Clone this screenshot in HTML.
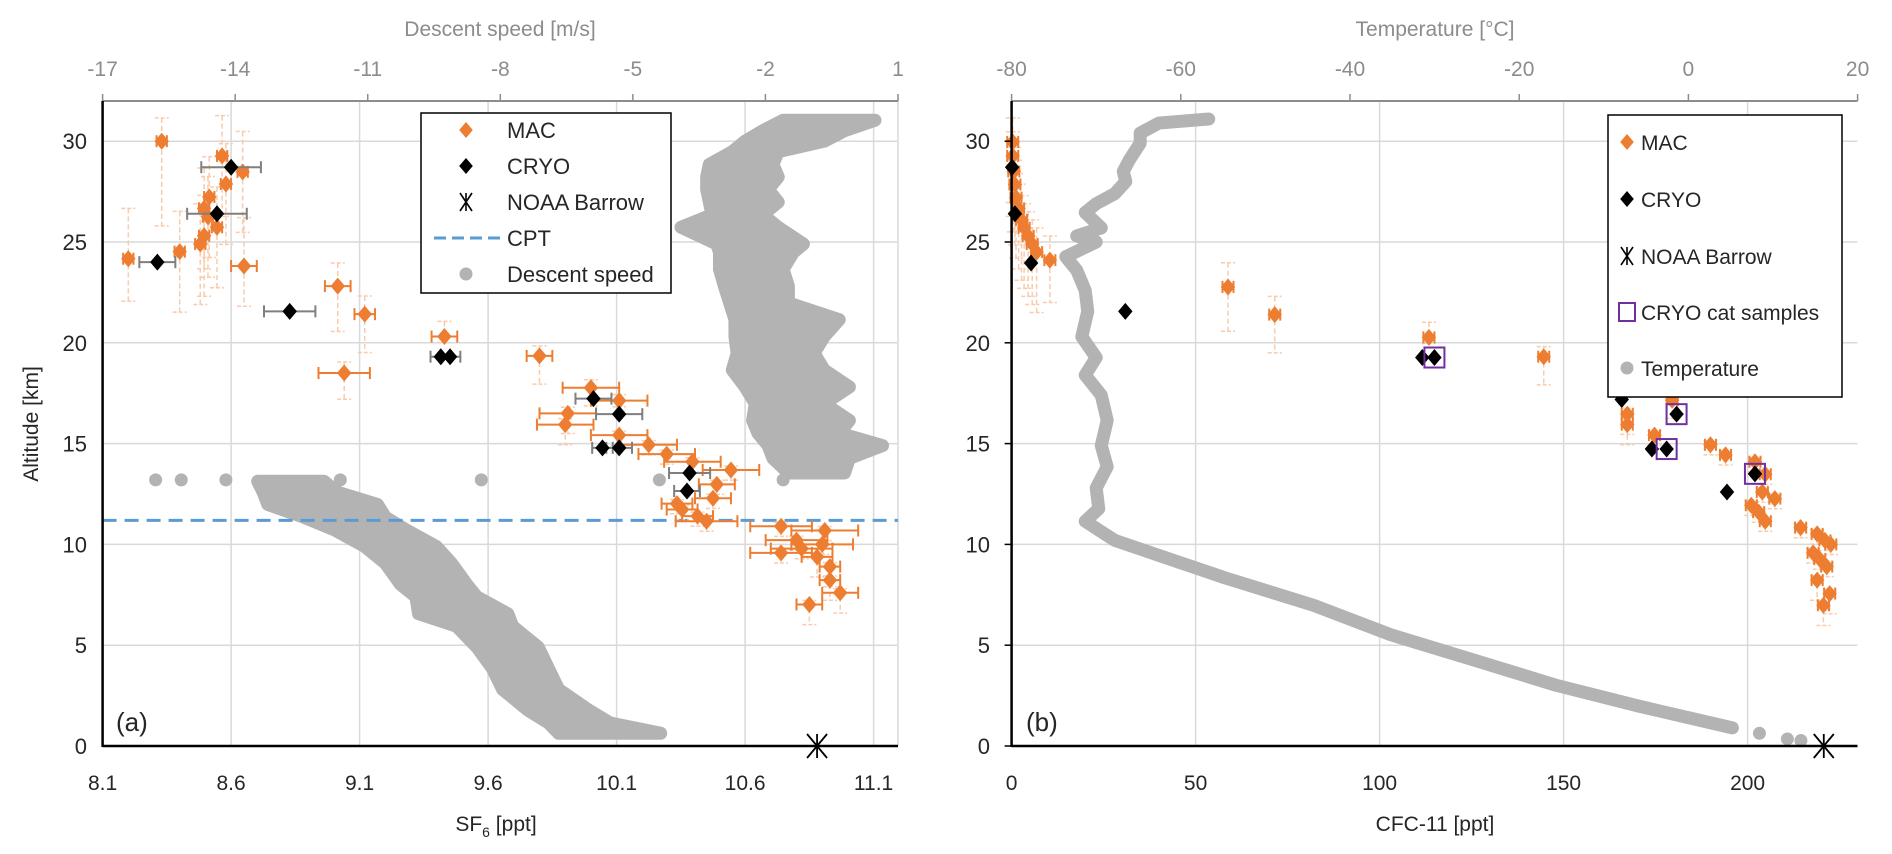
<!DOCTYPE html>
<html><head><meta charset="utf-8"><style>
html,body{margin:0;padding:0;background:#fff;}
svg{display:block;font-family:"Liberation Sans",sans-serif;}
</style></head><body>
<svg id="chart" width="1892" height="854" viewBox="0 0 1892 854"></svg>
<script>
// ---------- Panel (a) data ----------
const macA_sf6 = [8.33,8.565,8.645,8.58,8.515,8.495,8.51,8.545,8.495,8.48,8.40,8.20,8.65,9.015,9.12,9.43,9.04,9.80,10.00,10.11,9.91,9.90,10.11,10.225,10.295,10.395,10.545,10.49,10.475,10.335,10.355,10.415,10.45,10.74,10.91,10.80,10.90,10.82,10.74,10.88,10.93,10.93,10.97,10.85];
const macA_alt = [30.0,29.27,28.48,27.88,27.23,26.67,26.25,25.73,25.31,24.9,24.52,24.17,23.81,22.81,21.42,20.31,18.5,19.35,17.77,17.13,16.5,15.94,15.42,14.94,14.48,14.1,13.69,12.98,12.29,12.02,11.73,11.4,11.15,10.9,10.69,10.21,10.0,9.79,9.58,9.38,8.9,8.23,7.6,7.02];
const macA_xerr = [0.02,0.02,0.02,0.02,0.02,0.02,0.02,0.02,0.02,0.02,0.02,0.02,0.05,0.05,0.04,0.05,0.1,0.05,0.11,0.11,0.11,0.11,0.11,0.11,0.11,0.11,0.11,0.07,0.07,0.06,0.06,0.06,0.12,0.12,0.13,0.12,0.12,0.12,0.12,0.06,0.04,0.04,0.07,0.05];
const macA_yerrUp = [1.15,2,2,2,2,2,2,2,2,2,2,2.5,2.4,1.15,0.9,0.75,0.55,0.5,0.4,0.3,0.3,0.3,0.2,0.2,0.2,0.2,0.2,0.2,0.2,0.2,0.2,0.2,0.2,0.2,0.2,0.2,0.2,0.2,0.2,0.2,0.2,0.2,0.2,0.2];
const macA_yerrDn = [4.2,3,3,3,3,3,3,3,3,3,3,2.1,2.0,2.25,1.9,0.3,1.3,1.4,0.9,0.3,1.0,1.0,0.5,0.5,0.5,0.5,0.5,0.5,0.5,0.5,0.5,0.5,0.5,0.5,0.5,0.5,0.5,0.5,0.5,1.0,1.0,1.0,1.0,1.0];
const cryoA_sf6 = [8.60,8.545,8.313,8.828,9.416,9.452,10.01,10.11,10.045,10.11,10.384,10.374];
const cryoA_alt = [28.71,26.4,24.0,21.56,19.31,19.31,17.23,16.46,14.79,14.79,13.54,12.65];
const cryoA_xerr = [0.116,0.116,0.07,0.1,0.04,0.04,0.07,0.09,0.04,0.05,0.08,0.05];
// descent speed cloud rows: altitude, min speed, max speed
const speedLow_alt = [0.63,1.15,1.77,2.81,3.85,4.9,5.94,6.56,7.4,8.02,9.06,9.9,10.73,11.35,11.98,12.6,13.13];
const speedLow_min = [-6.68,-6.91,-7.37,-7.95,-8.18,-8.53,-8.99,-9.85,-9.91,-10.26,-10.6,-11.07,-11.76,-12.45,-13.26,-13.37,-13.49];
const speedLow_max = [-4.37,-5.52,-5.99,-6.68,-6.91,-7.14,-7.72,-7.83,-8.53,-8.76,-9.1,-9.45,-10.14,-10.6,-10.78,-11.7,-11.99];
const speedHigh_alt = [13.54,14.27,14.9,15.52,16.15,16.98,17.81,18.65,19.48,20.31,21.15,21.98,22.81,23.65,24.48,24.9,25.73,26.35,26.98,27.6,28.23,28.85,29.48,30.0,30.52,31.04];
const speedHigh_min = [-1.48,-1.83,-1.94,-2.17,-2.29,-2.23,-2.46,-2.75,-2.64,-2.69,-2.69,-2.81,-2.93,-3.04,-3.04,-3.1,-3.91,-3.21,-3.27,-3.33,-3.33,-3.27,-2.75,-2.46,-2.06,-1.6];
const speedHigh_max = [-0.21,-0.1,0.65,-0.33,-0.1,-0.67,-0.1,-0.67,-0.9,-0.67,-0.33,-1.48,-1.48,-1.6,-1.37,-1.14,-1.71,-2.06,-1.71,-1.94,-1.71,-1.83,-1.71,-0.67,-0.21,0.48];
const speedIso_val = [-15.8,-15.22,-14.21,-11.62,-8.43,-4.4,-1.6];
const speedIso_alt = [13.2,13.2,13.2,13.2,13.2,13.2,13.2];
const cptAlt = 11.19;
const noaaSF6 = 10.88;
const sf6Ticks = [8.1,8.6,9.1,9.6,10.1,10.6,11.1];
const speedTicks = [-17,-14,-11,-8,-5,-2,1];
const altTicks = [0,5,10,15,20,25,30];

// ---------- Panel (b) data ----------
const macB_cfc = [0.3,0.3,0.6,0.9,1.2,1.9,2.7,3.4,4.5,5.6,6.8,10.4,58.8,71.5,113.4,144.6,179.5,167.3,167.3,174.7,189.9,194,202,204.8,204,207.4,201,203,204.8,214.4,218.9,221,222.6,217.8,219.6,221.5,218.9,222.3,220.6];
const macB_alt = [29.96,29.27,28.5,27.85,27.2,26.67,26.1,25.7,25.3,24.9,24.5,24.1,22.77,21.4,20.27,19.31,17.15,16.46,15.94,15.42,14.94,14.44,14.1,13.48,12.6,12.27,11.94,11.6,11.15,10.83,10.52,10.2,10.0,9.58,9.27,8.9,8.23,7.56,6.98];
const macB_yerrUp = [1.2,1.2,1.2,1.2,1.2,1.2,1.2,1.2,1.2,1.2,1.2,1.2,1.2,0.9,0.75,0.5,0.3,0.3,0.3,0.2,0.2,0.2,0.2,0.2,0.2,0.2,0.2,0.2,0.2,0.2,0.2,0.2,0.2,0.2,0.2,0.2,0.2,0.2,0.2];
const macB_yerrDn = [3,3,3,3,3,3,3,3,3,3,3,2.1,2.2,1.9,0.3,1.4,0.9,1.0,1.0,0.5,0.5,0.5,0.5,0.5,0.5,0.5,0.5,0.5,0.5,0.5,0.5,0.5,0.5,0.5,0.5,0.5,1.0,1.0,1.0];
const cryoB_cfc = [0.15,0.9,5.3,30.9,111.6,114.9,165.8,180.7,174,178,202,194.4];
const cryoB_alt = [28.71,26.4,23.96,21.56,19.27,19.27,17.19,16.46,14.73,14.73,13.5,12.6];
const catB_cfc = [114.9,180.7,178,202];
const catB_alt = [19.27,16.46,14.73,13.5];
const temp_val = [-56.7,-62.6,-64.8,-64.8,-66.1,-66.8,-66.5,-67.8,-70,-71.3,-69.4,-72.3,-70,-73.6,-72.3,-71.3,-71,-71.7,-70,-71.3,-69.4,-68.7,-69.4,-68.7,-70,-69.7,-71.3,-69.4,-67.8,-61.3,-54.7,-44.3,-35.2,-25.4,-15.7,-5.9,5.2];
const temp_alt = [31.1,30.9,30.4,29.9,29.06,28.5,28.0,27.4,26.9,26.46,25.7,25.3,25.0,24.27,23.6,22.6,21.56,20.3,19.27,18.4,17.4,16.15,14.9,13.85,12.8,11.77,11.15,10.63,10.2,9.27,8.33,6.98,5.52,4.27,3.02,1.98,0.9];
const tempIso_val = [8.4,11.7,13.3];
const tempIso_alt = [0.63,0.35,0.27];
const noaaCFC = 220.7;
const cfcTicks = [0,50,100,150,200];
const tempTicks = [-80,-60,-40,-20,0,20];

// ---------- axes ----------
const Y0 = 746, PXKM = 20.16, TOP = 101;
const yA = a => Y0 - a * PXKM;
const AL = 102.6, AR = 898;
const xS = v => AL + (v - 8.1) * 257;
const xV = s => AL + (s + 17) * (AR - AL) / 18;
const BL = 1011.6, BR = 1857.5;
const xC = c => BL + c * 3.68;
const xT = t => BL + (t + 80) * 8.46;

const NS = 'http://www.w3.org/2000/svg';
const svg = document.getElementById('chart');
function mk(tag, attrs, parent) {
  const e = document.createElementNS(NS, tag);
  for (const k in attrs) e.setAttribute(k, attrs[k]);
  (parent || svg).appendChild(e);
  return e;
}
function txt(s, attrs, parent) { const e = mk('text', attrs, parent); e.textContent = s; return e; }
const ORANGE = '#ED7D31', LIGHT = '#f8cbad', GRID = '#d9d9d9', GRAY = '#b3b3b3';

function diamond(g, cx, cy, r, fill) {
  return mk('polygon', {points: `${cx},${cy-r} ${cx+r*0.85},${cy} ${cx},${cy+r} ${cx-r*0.85},${cy}`, fill: fill}, g);
}
function star(g, cx, cy) {
  const s = mk('g', {stroke: '#000', 'stroke-width': 1.8}, g);
  mk('line', {x1: cx, y1: cy-12, x2: cx, y2: cy+12}, s);
  mk('line', {x1: cx-10, y1: cy-12, x2: cx+10, y2: cy+12}, s);
  mk('line', {x1: cx+10, y1: cy-12, x2: cx-10, y2: cy+12}, s);
  return s;
}
function hbar(g, x1, x2, y, col) {
  mk('line', {x1: x1, y1: y, x2: x2, y2: y, stroke: col, 'stroke-width': 2}, g);
  mk('line', {x1: x1, y1: y-6, x2: x1, y2: y+6, stroke: col, 'stroke-width': 2}, g);
  mk('line', {x1: x2, y1: y-6, x2: x2, y2: y+6, stroke: col, 'stroke-width': 2}, g);
}
function vbar(g, x, y1, y2) {
  mk('line', {x1: x, y1: y1, x2: x, y2: y2, stroke: LIGHT, 'stroke-width': 1.5, 'stroke-dasharray': '5,3'}, g);
  mk('line', {x1: x-7, y1: y1, x2: x+7, y2: y1, stroke: LIGHT, 'stroke-width': 1.5, 'stroke-dasharray': '4,2'}, g);
  mk('line', {x1: x-7, y1: y2, x2: x+7, y2: y2, stroke: LIGHT, 'stroke-width': 1.5, 'stroke-dasharray': '4,2'}, g);
}
function cloud(g, alts, mins, maxs, xf) {
  let pts = [];
  for (let i = 0; i < alts.length; i++) pts.push(xf(mins[i]) + ',' + yA(alts[i]));
  for (let i = alts.length - 1; i >= 0; i--) pts.push(xf(maxs[i]) + ',' + yA(alts[i]));
  return mk('polygon', {points: pts.join(' '), fill: GRAY, stroke: GRAY, 'stroke-width': 13, 'stroke-linejoin': 'round'}, g);
}

// ===== Panel A =====
const pa = mk('g', {});


const gridA = mk('g', {}, pa);


altTicks.forEach(a => { if (a > 0) mk('line', {x1: AL, x2: AR, y1: yA(a), y2: yA(a), stroke: GRID, 'stroke-width': 1.5}, gridA); });
sf6Ticks.forEach(v => { if (v > 8.1) mk('line', {x1: xS(v), x2: xS(v), y1: TOP, y2: Y0, stroke: GRID, 'stroke-width': 1.5}, gridA); });
mk('line', {x1: AR, x2: AR, y1: TOP, y2: Y0, stroke: GRID, 'stroke-width': 1.5}, gridA);

const spd = mk('g', {}, pa);


cloud(spd, speedLow_alt, speedLow_min, speedLow_max, xV);
cloud(spd, speedHigh_alt, speedHigh_min, speedHigh_max, xV);
speedIso_val.forEach((s, i) => mk('circle', {cx: xV(s), cy: yA(speedIso_alt[i]), r: 6.5, fill: GRAY}, spd));

const cpt = mk('line', {x1: AL, x2: AR, y1: yA(cptAlt), y2: yA(cptAlt), stroke: '#5b9bd5', 'stroke-width': 3, 'stroke-dasharray': '14,8'}, pa);



const macA = mk('g', {}, pa);


macA_sf6.forEach((v, i) => vbar(macA, xS(v), yA(macA_alt[i] + macA_yerrUp[i]), yA(macA_alt[i] - macA_yerrDn[i])));
macA_sf6.forEach((v, i) => hbar(macA, xS(v - macA_xerr[i]), xS(v + macA_xerr[i]), yA(macA_alt[i]), ORANGE));
macA_sf6.forEach((v, i) => diamond(macA, xS(v), yA(macA_alt[i]), 8.5, ORANGE));

const cryoA = mk('g', {}, pa);


cryoA_sf6.forEach((v, i) => hbar(cryoA, xS(v - cryoA_xerr[i]), xS(v + cryoA_xerr[i]), yA(cryoA_alt[i]), '#7f7f7f'));
cryoA_sf6.forEach((v, i) => diamond(cryoA, xS(v), yA(cryoA_alt[i]), 8.5, '#000'));

const noaaA = star(pa, xS(noaaSF6), yA(0));



// axes A
mk('line', {x1: AL, x2: AR, y1: TOP, y2: TOP, stroke: '#8c8c8c', 'stroke-width': 2}, pa);
speedTicks.forEach(s => mk('line', {x1: xV(s), x2: xV(s), y1: TOP - 7, y2: TOP, stroke: '#8c8c8c', 'stroke-width': 1.5}, pa));
mk('line', {x1: AL, x2: AL, y1: TOP, y2: Y0 + 1, stroke: '#000', 'stroke-width': 2.5}, pa);
mk('line', {x1: AL, x2: AR, y1: Y0, y2: Y0, stroke: '#000', 'stroke-width': 2.5}, pa);
altTicks.forEach(a => txt(String(a), {x: 87, y: yA(a) + 8, 'font-size': 22, 'text-anchor': 'end', fill: '#262626'}, pa));
sf6Ticks.forEach(v => txt(String(v), {x: xS(v), y: 790, 'font-size': 21, 'text-anchor': 'middle', fill: '#262626'}, pa));
speedTicks.forEach(s => txt(String(s), {x: xV(s), y: 76, 'font-size': 21, 'text-anchor': 'middle', fill: '#8c8c8c'}, pa));
const tA = txt('Descent speed [m/s]', {x: 500, y: 36, 'font-size': 21, 'text-anchor': 'middle', fill: '#8c8c8c'}, pa);


const xa = mk('text', {x: 496, y: 831, 'font-size': 21, 'text-anchor': 'middle', fill: '#262626'}, pa);
xa.innerHTML = 'SF<tspan font-size="14" dy="6">6</tspan><tspan dy="-6"> [ppt]</tspan>';


const ya = txt('Altitude [km]', {x: 0, y: 0, 'font-size': 21, 'text-anchor': 'middle', fill: '#262626', transform: 'translate(38,424) rotate(-90)'}, pa);


txt('(a)', {x: 116, y: 731, 'font-size': 26, fill: '#262626'}, pa);

// legend A
const lgA = mk('g', {}, pa);


mk('rect', {x: 421, y: 113, width: 250, height: 180, fill: '#fff', stroke: '#000', 'stroke-width': 1.5}, lgA);
const lgY = [130, 166, 202, 238, 274];
diamond(lgA, 466, lgY[0], 8, ORANGE);
diamond(lgA, 466, lgY[1], 8, '#000');
const s1 = mk('g', {stroke: '#000', 'stroke-width': 1.6}, lgA);
mk('line', {x1: 466, y1: lgY[2]-9, x2: 466, y2: lgY[2]+9}, s1);
mk('line', {x1: 460, y1: lgY[2]-9, x2: 472, y2: lgY[2]+9}, s1);
mk('line', {x1: 472, y1: lgY[2]-9, x2: 460, y2: lgY[2]+9}, s1);
mk('line', {x1: 434, x2: 500, y1: lgY[3], y2: lgY[3], stroke: '#5b9bd5', 'stroke-width': 3, 'stroke-dasharray': '12,6'}, lgA);
mk('circle', {cx: 466, cy: lgY[4], r: 6.5, fill: GRAY}, lgA);
['MAC', 'CRYO', 'NOAA Barrow', 'CPT', 'Descent speed'].forEach((t, i) => txt(t, {x: 507, y: lgY[i] + 8, 'font-size': 22, fill: '#262626'}, lgA));

// ===== Panel B =====
const pb = mk('g', {});


const gridB = mk('g', {}, pb);


altTicks.forEach(a => { if (a > 0) mk('line', {x1: BL, x2: BR, y1: yA(a), y2: yA(a), stroke: GRID, 'stroke-width': 1.5}, gridB); });
cfcTicks.forEach(c => { if (c > 0) mk('line', {x1: xC(c), x2: xC(c), y1: TOP, y2: Y0, stroke: GRID, 'stroke-width': 1.5}, gridB); });

const tmp = mk('g', {}, pb);


mk('polyline', {points: temp_val.map((t, i) => xT(t) + ',' + yA(temp_alt[i])).join(' '), fill: 'none', stroke: GRAY, 'stroke-width': 13, 'stroke-linejoin': 'round', 'stroke-linecap': 'round'}, tmp);
tempIso_val.forEach((t, i) => mk('circle', {cx: xT(t), cy: yA(tempIso_alt[i]), r: 6.5, fill: GRAY}, tmp));

const macB = mk('g', {}, pb);


macB_cfc.forEach((c, i) => vbar(macB, xC(c), yA(macB_alt[i] + macB_yerrUp[i]), yA(macB_alt[i] - macB_yerrDn[i])));
macB_cfc.forEach((c, i) => hbar(macB, xC(c - 1.5), xC(c + 1.5), yA(macB_alt[i]), ORANGE));
macB_cfc.forEach((c, i) => diamond(macB, xC(c), yA(macB_alt[i]), 8.5, ORANGE));

const cryoB = mk('g', {}, pb);


cryoB_cfc.forEach((c, i) => diamond(cryoB, xC(c), yA(cryoB_alt[i]), 8.5, '#000'));
const catB = mk('g', {}, pb);


catB_cfc.forEach((c, i) => mk('rect', {x: xC(c) - 10, y: yA(catB_alt[i]) - 10, width: 20, height: 20, fill: 'none', stroke: '#7030a0', 'stroke-width': 2}, catB));

const noaaB = star(pb, xC(noaaCFC), yA(0));



mk('line', {x1: BL, x2: BR, y1: TOP, y2: TOP, stroke: '#8c8c8c', 'stroke-width': 2}, pb);
tempTicks.forEach(t => mk('line', {x1: xT(t), x2: xT(t), y1: TOP - 7, y2: TOP, stroke: '#8c8c8c', 'stroke-width': 1.5}, pb));
mk('line', {x1: BL, x2: BL, y1: TOP, y2: Y0 + 1, stroke: '#000', 'stroke-width': 2.5}, pb);
mk('line', {x1: BL, x2: BR, y1: Y0, y2: Y0, stroke: '#000', 'stroke-width': 2.5}, pb);
altTicks.forEach(a => { mk('line', {x1: BL - 7, x2: BL, y1: yA(a), y2: yA(a), stroke: '#000', 'stroke-width': 1.5}, pb);
  txt(String(a), {x: 990, y: yA(a) + 8, 'font-size': 22, 'text-anchor': 'end', fill: '#262626'}, pb); });
cfcTicks.forEach(c => txt(String(c), {x: xC(c), y: 790, 'font-size': 21, 'text-anchor': 'middle', fill: '#262626'}, pb));
tempTicks.forEach(t => txt(String(t), {x: xT(t), y: 76, 'font-size': 21, 'text-anchor': 'middle', fill: '#8c8c8c'}, pb));
const tB = txt('Temperature [°C]', {x: 1435, y: 36, 'font-size': 21, 'text-anchor': 'middle', fill: '#8c8c8c'}, pb);


const xb = txt('CFC-11 [ppt]', {x: 1435, y: 831, 'font-size': 21, 'text-anchor': 'middle', fill: '#262626'}, pb);


txt('(b)', {x: 1026, y: 731, 'font-size': 26, fill: '#262626'}, pb);

// legend B
const lgB = mk('g', {}, pb);


mk('rect', {x: 1608, y: 115, width: 234, height: 282, fill: '#fff', stroke: '#000', 'stroke-width': 1.5}, lgB);
const lbY = [142, 199, 256, 312, 368];
diamond(lgB, 1627, lbY[0], 8, ORANGE);
diamond(lgB, 1627, lbY[1], 8, '#000');
const s2 = mk('g', {stroke: '#000', 'stroke-width': 1.6}, lgB);
mk('line', {x1: 1627, y1: lbY[2]-9, x2: 1627, y2: lbY[2]+9}, s2);
mk('line', {x1: 1621, y1: lbY[2]-9, x2: 1633, y2: lbY[2]+9}, s2);
mk('line', {x1: 1633, y1: lbY[2]-9, x2: 1621, y2: lbY[2]+9}, s2);
mk('rect', {x: 1619, y: lbY[3] - 9, width: 16, height: 18, fill: 'none', stroke: '#7030a0', 'stroke-width': 2}, lgB);
mk('circle', {cx: 1627, cy: lbY[4], r: 6.5, fill: GRAY}, lgB);
['MAC', 'CRYO', 'NOAA Barrow', 'CRYO cat samples', 'Temperature'].forEach((t, i) => txt(t, {x: 1641, y: lbY[i] + 8, 'font-size': 21, fill: '#262626'}, lgB));
</script>
</body></html>
